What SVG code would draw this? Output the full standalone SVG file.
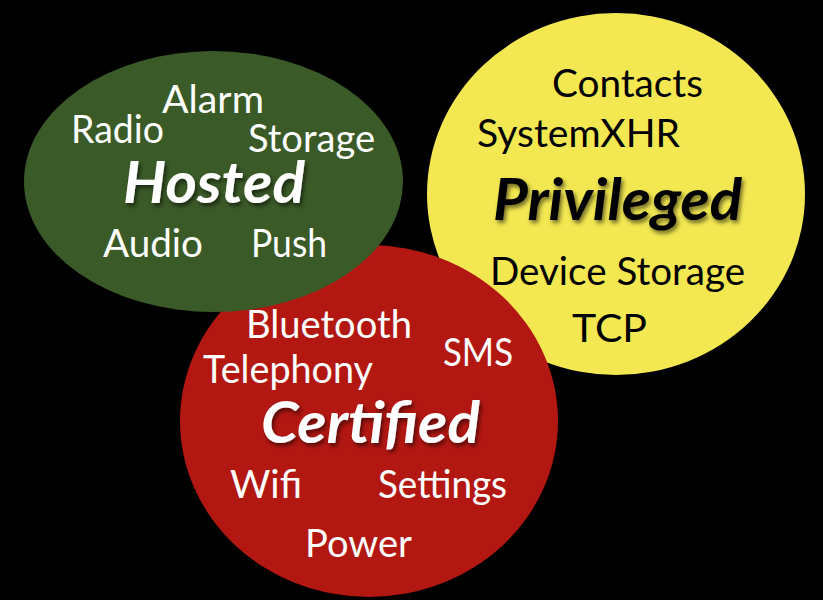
<svg xmlns="http://www.w3.org/2000/svg" width="823" height="600" viewBox="0 0 823 600">
<defs>
<style>
.w{font-family:Lato,"Open Sans","Liberation Sans",sans-serif;font-size:38px;fill:#ffffff}
.b{font-family:Lato,"Open Sans","Liberation Sans",sans-serif;font-size:38px;fill:#000000}
.t{font-family:Lato,"Open Sans","Liberation Sans",sans-serif;font-size:58px;font-weight:bold;font-style:italic;filter:url(#sh)}
</style>
<filter id="sh" x="-10%" y="-20%" width="120%" height="150%">
<feDropShadow dx="2" dy="3" stdDeviation="2" flood-color="#000" flood-opacity="0.55"/>
</filter>
</defs>
<rect width="823" height="600" fill="#000"/>
<g id="privileged">
<ellipse cx="616" cy="194" rx="189" ry="181" fill="#f3e851"/>
<text class="b" x="552" y="97" textLength="151" lengthAdjust="spacingAndGlyphs">Contacts</text>
<text class="b" x="477" y="147" textLength="203" lengthAdjust="spacingAndGlyphs">SystemXHR</text>
<text class="t" x="493" y="220" textLength="249" lengthAdjust="spacingAndGlyphs" fill="#000">Privileged</text>
<text class="b" x="490" y="285" textLength="255" lengthAdjust="spacingAndGlyphs">Device Storage</text>
<text class="b" x="572" y="342" textLength="75" lengthAdjust="spacingAndGlyphs">TCP</text>
</g>
<g id="certified">
<ellipse cx="369" cy="421" rx="189" ry="176" fill="#b31712"/>
<text class="w" x="246" y="338" textLength="166" lengthAdjust="spacingAndGlyphs">Bluetooth</text>
<text class="w" x="443" y="366" textLength="70" lengthAdjust="spacingAndGlyphs">SMS</text>
<text class="w" x="203" y="383" textLength="170" lengthAdjust="spacingAndGlyphs">Telephony</text>
<text class="t" x="261" y="443" textLength="219" lengthAdjust="spacingAndGlyphs" fill="#fff">Certified</text>
<text class="w" x="230" y="498" textLength="72" lengthAdjust="spacingAndGlyphs">Wifi</text>
<text class="w" x="378" y="498" textLength="129" lengthAdjust="spacingAndGlyphs">Settings</text>
<text class="w" x="305" y="557" textLength="107" lengthAdjust="spacingAndGlyphs">Power</text>
</g>
<g id="hosted">
<ellipse cx="213.5" cy="181.5" rx="189.5" ry="130.5" fill="#3a5a27"/>
<text class="w" x="162" y="113" textLength="102" lengthAdjust="spacingAndGlyphs">Alarm</text>
<text class="w" x="71" y="143" textLength="93" lengthAdjust="spacingAndGlyphs">Radio</text>
<text class="w" x="248" y="152" textLength="127" lengthAdjust="spacingAndGlyphs">Storage</text>
<text class="t" x="123" y="203" textLength="182" lengthAdjust="spacingAndGlyphs" fill="#fff">Hosted</text>
<text class="w" x="103" y="257" textLength="100" lengthAdjust="spacingAndGlyphs">Audio</text>
<text class="w" x="251" y="257" textLength="76" lengthAdjust="spacingAndGlyphs">Push</text>
</g>
</svg>
